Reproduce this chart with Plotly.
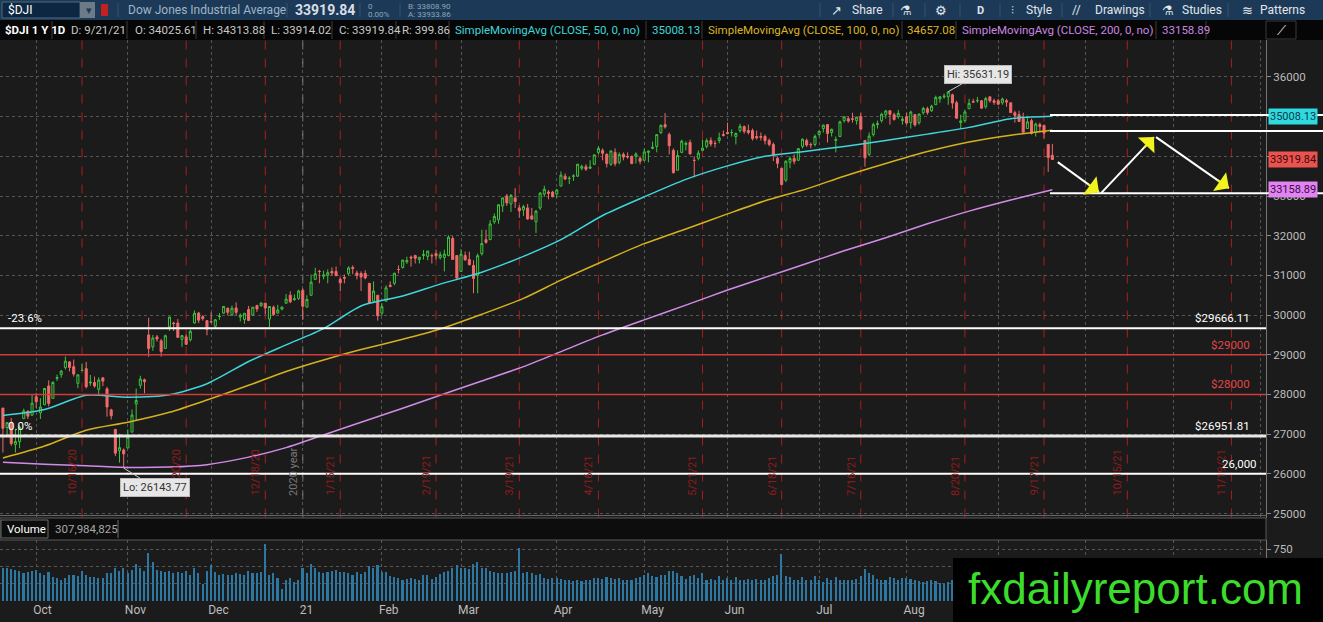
import pandas as pd
import plotly.graph_objects as go

# NYSE sessions, weekends and exchange holidays removed
holidays = ['2020-11-26', '2020-12-25', '2021-01-01', '2021-01-18', '2021-02-15',
            '2021-04-02', '2021-05-31', '2021-07-05', '2021-09-06', '2021-11-25']
sessions = pd.bdate_range('2020-09-21', '2021-12-31', freq='C', holidays=holidays)

# daily $DJI candles, 9/21/20 .. 9/21/21 (one line per month)
opens = [
    27657, 27168, 27298, 26740, 26810, 27390, 27580, 27480,
    27941, 27537, 27740, 28214, 27900, 28404, 28500, 28680, 28820, 28700, 28280, 28600, 28650, 28290, 28300, 28130, 28420, 28140, 27610, 27120, 26580, 26600,
    26650, 27050, 27760, 28230, 28370, 29500, 29200, 29450, 29350, 29160, 29700, 29800, 29800, 29390, 29450, 29380, 29800, 30050, 29960, 29860,
    29830, 29720, 29960, 30050, 30170, 30000, 30180, 29950, 29890, 30140, 30000, 30240, 30230, 30300, 29900, 30200, 30050, 30150, 30300, 30500, 30390, 30420,
    30627, 30200, 30500, 30900, 31100, 30980, 31000, 31100, 31100, 30900, 30950, 31050, 31200, 31060, 31050, 31050, 30800, 30350, 30500,
    30050, 30350, 30750, 30800, 31150, 31200, 31340, 31460, 31500, 31400, 31500, 31480, 31500, 31550, 31450, 31450, 31500, 31930, 31500,
    31100, 31500, 31400, 31250, 31000, 31550, 31900, 31900, 32350, 32400, 32750, 33000, 32800, 32950, 32700, 32650, 32700, 32500, 32350, 32700, 33050, 33100, 33100,
    33050, 33250, 33500, 33440, 33500, 33500, 33700, 33740, 33700, 33800, 34100, 34150, 34050, 33800, 34100, 33850, 34050, 34000, 34000, 34000, 33950,
    33900, 34100, 34200, 34250, 34600, 34800, 34550, 34150, 33650, 34100, 34300, 34350, 33900, 33950, 34150, 34250, 34400, 34330, 34400, 34550,
    34600, 34600, 34500, 34650, 34750, 34650, 34650, 34500, 34500, 34500, 34400, 34300, 33950, 33700, 33400, 33850, 33950, 33900, 34250, 34400, 34300, 34300,
    34550, 34700, 34800, 34600, 34400, 34500, 34900, 34950, 34950, 34900, 35000, 34400, 34050, 34550, 34800, 34900, 35050, 35150, 35050, 35000, 34900,
    35000, 34850, 35050, 34850, 35100, 35200, 35150, 35300, 35450, 35500, 35500, 35550, 35350, 34850, 34900, 35200, 35380, 35400, 35400, 35250, 35500, 35400,
    35400, 35350, 35400, 35350, 35100, 35050, 34950, 34700, 34900, 34600, 34800, 34780, 34300, 34025.61,
]
highs = [
    27657, 27307, 27407, 27110, 27216, 27641, 27596, 27988,
    28040, 27906, 28163, 28354, 28332, 28500, 28620, 28958, 28839, 28880, 28500, 28780, 28820, 28490, 28450, 28430, 28430, 28190, 27640, 27120, 27010, 26640,
    27120, 27620, 28150, 28470, 28400, 29933, 29500, 29500, 29400, 29510, 29960, 29830, 29900, 29500, 29510, 29640, 30116, 30080, 30000, 29860,
    30070, 29900, 30050, 30220, 30190, 30240, 30320, 30040, 30050, 30230, 30200, 30260, 30320, 30300, 30220, 30240, 30260, 30220, 30530, 30600, 30520, 30640,
    30675, 30500, 31022, 31193, 31140, 31120, 31150, 31200, 31223, 30950, 31020, 31230, 31250, 31120, 31100, 31130, 30800, 30850, 30500,
    30300, 30750, 30850, 31060, 31250, 31390, 31470, 31500, 31520, 31460, 31640, 31620, 31550, 31650, 31600, 31650, 32010, 31990, 31500,
    31660, 31600, 31600, 31380, 31550, 32150, 32150, 32390, 32560, 32790, 32960, 33050, 33050, 33200, 32770, 32780, 32800, 32700, 32650, 33100, 33260, 33150, 33130,
    33180, 33620, 33570, 33500, 33550, 33810, 33790, 33800, 33900, 34050, 34260, 34200, 34080, 34140, 34200, 34100, 34100, 34100, 34020, 34100, 34000,
    34200, 34140, 34370, 34550, 34810, 35092, 34600, 34200, 34150, 34420, 34380, 34420, 34000, 34150, 34420, 34450, 34480, 34400, 34600, 34650,
    34850, 34680, 34600, 34820, 34780, 34800, 34700, 34650, 34600, 34550, 34450, 34350, 34000, 33700, 33900, 34000, 34050, 34200, 34450, 34450, 34350, 34550,
    34650, 34800, 34800, 34700, 34500, 34900, 35010, 35000, 35100, 35000, 35100, 34400, 34600, 34850, 34900, 35100, 35170, 35150, 35100, 35170, 35000,
    35100, 35150, 35070, 35080, 35250, 35250, 35300, 35530, 35520, 35580, 35631.19, 35580, 35400, 35050, 35180, 35450, 35450, 35500, 35420, 35500, 35510, 35450,
    35450, 35480, 35450, 35350, 35150, 35150, 35100, 35000, 34950, 34850, 34850, 34800, 34300, 34313.88,
]
lows = [
    26537, 26989, 26705, 26537, 26646, 27387, 27380, 27461,
    27660, 27382, 27740, 27700, 27900, 28340, 28420, 28630, 28580, 28450, 28156, 28590, 28150, 28220, 28170, 28000, 28210, 27440, 27370, 26450, 26280, 26143.77,
    26650, 27050, 27340, 28150, 28030, 28950, 29100, 29330, 28950, 29160, 29600, 29600, 29430, 29200, 29250, 29330, 29790, 29800, 29860, 29490,
    29800, 29650, 29880, 30030, 29990, 29980, 30000, 29840, 29780, 29850, 29980, 30080, 30220, 30020, 29700, 29980, 30040, 30120, 30280, 30300, 30360, 30380,
    29881, 30200, 30490, 30900, 30800, 30900, 30800, 31000, 30990, 30600, 30800, 31000, 31030, 30900, 30610, 30900, 30280, 30350, 29860,
    29980, 30350, 30700, 30750, 31050, 31170, 31290, 31220, 31300, 31300, 31400, 31380, 31300, 31400, 31400, 31100, 31480, 31400, 30880,
    31100, 31370, 31250, 30550, 30550, 31500, 31800, 31900, 32300, 32300, 32600, 32750, 32600, 32700, 32450, 32500, 32400, 32400, 32070, 32650, 32980, 32920, 32970,
    32950, 33250, 33400, 33300, 33380, 33480, 33650, 33630, 33680, 33780, 34050, 33900, 33720, 33760, 33750, 33800, 33900, 33940, 33800, 33820, 33800,
    33900, 33850, 34180, 34100, 34560, 34700, 34050, 33570, 33650, 34080, 34150, 34050, 33470, 33900, 34130, 34200, 34250, 34220, 34330, 34500,
    34550, 34500, 34300, 34600, 34570, 34550, 34400, 34420, 34400, 34300, 34250, 33880, 33700, 33270, 33350, 33700, 33800, 33900, 34200, 34240, 34200, 34250,
    34500, 34600, 34350, 34500, 34100, 34500, 34850, 34850, 34850, 34800, 34650, 33740, 34000, 34500, 34700, 34850, 34950, 34800, 34900, 34950, 34800,
    34800, 34700, 34750, 34800, 35050, 35050, 35120, 35300, 35350, 35450, 35300, 35200, 34950, 34690, 34850, 35200, 35350, 35350, 35200, 35200, 35350, 35300,
    35300, 35300, 35250, 35100, 34850, 34870, 34600, 34700, 34550, 34500, 34600, 34450, 33610, 33914.02,
]
closes = [
    27147, 27288, 26763, 26815, 27174, 27584, 27452, 27782,
    27817, 27683, 28149, 27773, 28303, 28426, 28587, 28838, 28680, 28514, 28495, 28606, 28196, 28309, 28211, 28364, 28336, 27685, 27463, 26520, 26659, 26502,
    26925, 27481, 27848, 28390, 28323, 29158, 29421, 29398, 29080, 29480, 29950, 29784, 29438, 29483, 29263, 29591, 30046, 29872, 29910, 29639,
    29824, 29883, 29969, 30218, 30070, 30174, 30068, 29999, 30046, 29861, 30199, 30155, 30304, 30179, 30216, 30015, 30129, 30200, 30404, 30335, 30409, 30606,
    30223, 30392, 30829, 31041, 31098, 31009, 31068, 31060, 30991, 30814, 30930, 31188, 31176, 30997, 30960, 30937, 30303, 30603, 29983,
    30212, 30688, 30724, 31056, 31148, 31386, 31375, 31438, 31431, 31458, 31523, 31613, 31494, 31494, 31522, 31537, 31962, 31402, 30932,
    31535, 31391, 31270, 30924, 31496, 31802, 31832, 32297, 32485, 32779, 32953, 32826, 33015, 32862, 32628, 32732, 32423, 32420, 32619, 33072, 33171, 33067, 32982,
    33153, 33527, 33430, 33446, 33504, 33801, 33746, 33677, 33730, 34036, 34200, 34078, 33821, 34138, 33816, 34044, 33982, 33985, 33820, 34060, 33875,
    34113, 34133, 34230, 34548, 34778, 34743, 34270, 33587, 34022, 34382, 34327, 34061, 33896, 34084, 34208, 34394, 34313, 34323, 34465, 34529,
    34575, 34600, 34577, 34756, 34630, 34600, 34447, 34466, 34480, 34394, 34299, 34033, 33823, 33290, 33877, 33945, 33874, 34196, 34433, 34283, 34292, 34503,
    34633, 34786, 34577, 34681, 34422, 34870, 34996, 34889, 34933, 34987, 34688, 33962, 34512, 34798, 34823, 35062, 35144, 35058, 34931, 35085, 34935,
    34838, 35117, 34793, 35065, 35209, 35102, 35265, 35485, 35500, 35516, 35626, 35343, 34961, 34894, 35120, 35336, 35367, 35406, 35214, 35456, 35400, 35361,
    35313, 35444, 35369, 35101, 35032, 34879, 34608, 34870, 34578, 34814, 34751, 34584, 33970, 33919.84,
]
# volume, millions of shares
volumes = [
    470, 470, 460, 450, 430, 400, 420, 440,
    450, 400, 380, 420, 350, 330, 300, 330, 370, 380, 360, 430, 380, 350, 340, 330, 330, 400, 400, 470, 430, 480,
    410, 450, 530, 470, 430, 690, 560, 450, 430, 420, 440, 400, 420, 400, 430, 380, 470, 400, 250, 440,
    520, 420, 380, 390, 380, 370, 400, 390, 370, 440, 400, 400, 420, 820, 370, 400, 330, 180, 300, 330, 280, 300,
    480, 400, 530, 470, 420, 400, 420, 440, 450, 420, 420, 400, 380, 420, 390, 420, 500, 470, 520,
    420, 420, 360, 350, 330, 310, 320, 330, 320, 310, 380, 370, 320, 350, 390, 420, 440, 480, 520,
    480, 470, 460, 540, 560, 480, 470, 430, 420, 400, 410, 400, 420, 440, 760, 410, 420, 400, 380, 390, 330, 320, 330,
    330, 320, 300, 310, 290, 300, 290, 300, 310, 330, 330, 320, 340, 330, 320, 330, 300, 310, 300, 330, 340,
    380, 400, 360, 340, 380, 370, 430, 440, 400, 360, 320, 360, 370, 330, 400, 300, 320, 310, 360, 300,
    330, 300, 340, 310, 300, 320, 300, 320, 300, 310, 330, 360, 380, 680, 360, 340, 300, 310, 340, 300, 310, 360,
    310, 280, 330, 300, 340, 300, 300, 310, 300, 320, 360, 460, 400, 370, 320, 300, 310, 340, 330, 300, 330,
    330, 320, 300, 290, 280, 290, 300, 290, 260, 250, 270, 300, 330, 320, 290, 260, 250, 240, 250, 250, 290, 310,
    310, 290, 260, 300, 300, 290, 320, 300, 330, 310, 320, 620, 420, 307.984825,
]

# simple moving averages
sma_dates = ['2020-09-21', '2020-10-05', '2020-10-19', '2020-11-02', '2020-11-16', '2020-11-30',
             '2020-12-14', '2020-12-28', '2021-01-11', '2021-01-25', '2021-02-08', '2021-02-22',
             '2021-03-08', '2021-03-22', '2021-04-05', '2021-04-19', '2021-05-03', '2021-05-17',
             '2021-06-01', '2021-06-14', '2021-06-28', '2021-07-12', '2021-07-26', '2021-08-09',
             '2021-08-23', '2021-09-07', '2021-09-21']
sma50 = [27470, 27620, 27980, 27930, 27990, 28270, 28830, 29250, 29660, 30230, 30480, 30780, 31080, 31480,
         31900, 32510, 32980, 33420, 33760, 34000, 34130, 34250, 34400, 34560, 34730, 34950, 35008.13]
sma100 = [26400, 26700, 27100, 27300, 27550, 27860, 28230, 28580, 28870, 29130, 29390, 29650, 30020, 30420,
          30880, 31350, 31800, 32170, 32550, 32880, 33180, 33500, 33820, 34120, 34360, 34530, 34657.08]
sma200 = [26290, 26240, 26200, 26160, 26170, 26230, 26420, 26660, 26980, 27300, 27650, 27980, 28340, 28700,
          29080, 29500, 29880, 30250, 30630, 30950, 31300, 31620, 31950, 32300, 32620, 32900, 33158.89]

# month labels that are not hidden under the watermark
month_labels = ['Oct', 'Nov', 'Dec', '21', 'Feb', 'Mar', 'Apr', 'May', 'Jun', 'Jul', 'Aug']
price_ticks = list(range(25000, 37000, 1000))
hidden_ticks = [34000, 35000]   # sit under the price badges
expiries = ['2020-10-16', '2020-11-20', '2020-12-18', '2021-01-15', '2021-02-19', '2021-03-19', '2021-04-16',
            '2021-05-21', '2021-06-18', '2021-07-16', '2021-08-20', '2021-09-17', '2021-10-15', '2021-11-19']

# drawn levels: (price, colour, width, left text, right text, right text colour)
levels = [
    (29666.11, '#ffffff', 2, '-23.6%', '$29666.11', '#ffffff'),
    (29000, '#d23a3a', 1.5, '', '$29000', '#e04848'),
    (28000, '#d23a3a', 1.5, '', '$28000', '#e04848'),
    (26951.81, '#e8e8e8', 3, '0.0%', '$26951.81', '#ffffff'),
    (26000, '#ffffff', 2, '', '26,000', '#ffffff'),
]
short_levels = [35040, 34640, 33070]
# hand drawn arrows after the last bar: (bar index, price) start -> tip
arrows = [((253.3, 33855), (263.2, 33098)),
          ((263.7, 33073), (276.4, 34485)),
          ((276.9, 34485), (294.4, 33199))]

n = len(closes)
dates = sessions[:n]
xs = list(range(n))


def pos(d):
    return sessions.get_loc(pd.Timestamp(d))


sma_x = [pos(d) for d in sma_dates]
firsts = pd.Series(range(len(sessions)), index=sessions).groupby([sessions.year, sessions.month]).first()
month_all = [int(v) for v in firsts.values if v >= pos('2020-10-01')]
month_text = month_labels + [''] * (len(month_all) - len(month_labels))

# pixel helpers for the decorations around the plot (plot area 1266 x 561, top at 40)
PW, TOP, BOT = 1266, 40, 601


def px(x):
    return x / PW


def py(y):
    return (BOT - y) / (BOT - TOP)


FONT = 'Roboto'
BG = '#1b1b1b'

fig = go.Figure()
fig.add_trace(go.Candlestick(
    x=xs, open=opens, high=highs, low=lows, close=closes,
    increasing=dict(line=dict(color='#3ec43e', width=1), fillcolor=BG),
    decreasing=dict(line=dict(color='#f26a6a', width=1), fillcolor='#f26a6a'),
    whiskerwidth=0, hovertext=[d.strftime('%m/%d/%y') for d in dates], name='$DJI'))
for vals, col in [(sma200, '#d28ce8'), (sma100, '#d6b11e'), (sma50, '#3fd6dc')]:
    fig.add_trace(go.Scatter(x=sma_x, y=vals, mode='lines', hoverinfo='skip',
                             line=dict(color=col, width=1.5, shape='spline', smoothing=0.7)))
fig.add_trace(go.Bar(x=xs, y=volumes, marker_color='#2c78a3', marker_line_width=0, width=0.38,
                     xaxis='x2', yaxis='y2', name='Volume'))

grid = dict(showgrid=True, gridcolor='#555555', griddash='dot', gridwidth=1, zeroline=False)
fig.update_layout(
    width=1323, height=622, showlegend=False,
    margin=dict(l=0, r=1323 - PW, t=TOP, b=622 - BOT),
    paper_bgcolor=BG, plot_bgcolor=BG,
    font=dict(family=FONT, color='#bdbdbd', size=11),
    xaxis=dict(domain=[0, 1], range=[-0.7, 303.3], anchor='y', tickvals=month_all, showticklabels=False,
               ticks='', showline=False, rangeslider=dict(visible=False), **grid),
    xaxis2=dict(domain=[0, 1], matches='x', anchor='y2', tickvals=month_all, ticktext=month_text,
                ticklabelposition='outside right', ticklabelshift=-3, ticks='', showline=False,
                tickfont=dict(size=12, color='#bdbdbd'), **grid),
    yaxis=dict(domain=[py(517.5), 1], range=[24899, 36932], side='right', anchor='x',
               tickvals=price_ticks, ticktext=['' if t in hidden_ticks else str(t) for t in price_ticks],
               ticks='outside', ticklen=4, tickcolor='#888888',
               showline=True, linecolor='#777777', tickfont=dict(size=11.5, color='#bdbdbd'), **grid),
    yaxis2=dict(domain=[0, py(540)], range=[0, 880], side='right', anchor='x2',
                tickvals=[250, 500, 750], ticktext=['', '', '750'], ticks='outside', ticklen=4,
                tickcolor='#888888', showline=True, linecolor='#777777',
                tickfont=dict(size=11.5, color='#bdbdbd'), **grid),
    bargap=0,
)

shapes = []
ann = []

# option expiry lines and the year separator
for d in expiries:
    t = pd.Timestamp(d)
    shapes.append(dict(type='line', xref='x', yref='y domain', x0=pos(d), x1=pos(d), y0=0, y1=1,
                       line=dict(color='#a81e1e', width=1, dash='dash'), layer='below'))
    ann.append(dict(x=pos(d), y=25400, xref='x', yref='y', xanchor='right', yanchor='bottom', xshift=-1,
                    text=f'{t.month}/{t.day}/{t.year % 100}', textangle=-90, showarrow=False,
                    font=dict(color='#8e1c1c', size=11)))
yr = pos('2021-01-04')
shapes.append(dict(type='line', xref='x', yref='y domain', x0=yr, x1=yr, y0=0, y1=1,
                   line=dict(color='#8a8a8a', width=1, dash='dash'), layer='below'))
ann.append(dict(x=yr, y=25400, xref='x', yref='y', xanchor='right', yanchor='bottom', xshift=-1,
                text='2020 year', textangle=-90, showarrow=False, font=dict(color='#7a7a7a', size=11)))

# horizontal levels
for price, col, w, ltxt, rtxt, rcol in levels:
    shapes.append(dict(type='line', xref='paper', yref='y', x0=0, x1=1, y0=price, y1=price,
                       line=dict(color=col, width=w)))
    if ltxt:
        ann.append(dict(x=px(6), y=price, xref='paper', yref='y', xanchor='left', yanchor='middle', yshift=10,
                        text=ltxt, showarrow=False, font=dict(color='#ffffff', size=11.5)))
    ann.append(dict(x=px(1252 if rtxt != '26,000' else 1259), y=price, xref='paper', yref='y',
                    xanchor='right', yanchor='middle', yshift=10, text=rtxt, showarrow=False,
                    font=dict(color=rcol, size=11.5)))
for price in short_levels:
    shapes.append(dict(type='line', xref='paper', yref='y', x0=px(1050), x1=px(1323), y0=price, y1=price,
                       line=dict(color='#ffffff', width=2)))

# arrows: white shaft, yellow head
for (x0, y0), (x1, y1) in arrows:
    shapes.append(dict(type='line', xref='x', yref='y', x0=x0, y0=y0, x1=x1, y1=y1,
                       line=dict(color='#ffffff', width=2)))
    dxp, dyp = (x1 - x0) * 4.164, (y1 - y0) * 0.03968
    k = 16 / (dxp ** 2 + dyp ** 2) ** 0.5
    ann.append(dict(x=x1, y=y1, ax=x1 - (x1 - x0) * k, ay=y1 - (y1 - y0) * k, xref='x', yref='y',
                    axref='x', ayref='y', text='', showarrow=True, arrowhead=1, arrowsize=1.9,
                    arrowwidth=2, arrowcolor='#f2f21e', standoff=0))

# hi / lo bubbles
hi_i = highs.index(max(highs))
lo_i = lows.index(min(lows))
ann.append(dict(x=hi_i, y=highs[hi_i], xref='x', yref='y', ax=30, ay=-17, text=f'Hi: {highs[hi_i]:.2f}',
                showarrow=True, arrowhead=0, arrowcolor='#cccccc', arrowwidth=1, bgcolor='#e6e6e6',
                bordercolor='#bbbbbb', borderpad=2, font=dict(color='#333333', size=11)))
ann.append(dict(x=lo_i, y=lows[lo_i], xref='x', yref='y', ax=31, ay=19, text=f'Lo: {lows[lo_i]:.2f}',
                showarrow=True, arrowhead=0, arrowcolor='#cccccc', arrowwidth=1, bgcolor='#e6e6e6',
                bordercolor='#bbbbbb', borderpad=2, font=dict(color='#333333', size=11)))

# price badges on the right axis
for val, bg, fg in [(sma50[-1], '#2fdadf', '#0b3b4a'), (closes[-1], '#ea5450', '#3d0606'),
                    (sma200[-1], '#e283f2', '#3c0848')]:
    ann.append(dict(x=1 + px(2), y=val, xref='paper', yref='y', xanchor='left', yanchor='middle',
                    text=f'{val:.2f}', showarrow=False, bgcolor=bg, borderpad=1,
                    font=dict(color=fg, size=11)))

# main pane bottom border and volume header
shapes.append(dict(type='line', xref='paper', yref='paper', x0=0, x1=1, y0=py(515.5), y1=py(515.5),
                   line=dict(color='#666666', width=1)))
shapes.append(dict(type='rect', xref='paper', yref='paper', x0=0, x1=1, y0=py(540), y1=py(518),
                   fillcolor='#0d0d0d', line=dict(color='#5a5a5a', width=1)))
shapes.append(dict(type='rect', xref='paper', yref='paper', x0=px(1), x1=px(48), y0=py(538), y1=py(520),
                   line=dict(color='#6a6a6a', width=1)))
shapes.append(dict(type='line', xref='paper', yref='paper', x0=px(118), x1=px(118), y0=py(538), y1=py(520),
                   line=dict(color='#6a6a6a', width=1)))
ann.append(dict(x=px(5), y=py(529), xref='paper', yref='paper', xanchor='left', yanchor='middle',
                text='Volume', showarrow=False, font=dict(color='#ffffff', size=11.5)))
ann.append(dict(x=px(53), y=py(529), xref='paper', yref='paper', xanchor='left', yanchor='middle',
                text=f'{round(volumes[-1] * 1e6):,}', showarrow=False,
                font=dict(color='#a8a8a8', size=11.5)))

# top toolbar and study bar
shapes.append(dict(type='rect', xref='paper', yref='paper', x0=0, x1=px(1323), y0=py(20), y1=py(0),
                   fillcolor='#1c3a57', line=dict(width=0)))
shapes.append(dict(type='rect', xref='paper', yref='paper', x0=0, x1=px(1323), y0=py(40), y1=py(20),
                   fillcolor='#060606', line=dict(width=0)))
shapes.append(dict(type='rect', xref='paper', yref='paper', x0=px(2), x1=px(80), y0=py(18), y1=py(2),
                   fillcolor='#0e2740', line=dict(color='#4f6a84', width=1)))
shapes.append(dict(type='rect', xref='paper', yref='paper', x0=px(80), x1=px(95), y0=py(18), y1=py(2),
                   fillcolor='#6d7b89', line=dict(width=0)))
shapes.append(dict(type='rect', xref='paper', yref='paper', x0=px(101), x1=px(108), y0=py(16), y1=py(4),
                   fillcolor='#c42020', line=dict(width=0)))
shapes.append(dict(type='rect', xref='paper', yref='paper', x0=px(1266), x1=px(1296), y0=py(39), y1=py(21),
                   line=dict(color='#3a3a3a', width=1)))
for sx in [118, 287, 360, 400, 820, 893, 925, 960, 1000, 1062, 1150, 1228]:
    shapes.append(dict(type='line', xref='paper', yref='paper', x0=px(sx), x1=px(sx), y0=py(17), y1=py(3),
                       line=dict(color='#35526e', width=1)))
for sx in [52, 127, 196, 264, 332, 396, 449, 646, 702, 902, 956, 1156, 1206]:
    shapes.append(dict(type='line', xref='paper', yref='paper', x0=px(sx), x1=px(sx), y0=py(39), y1=py(21),
                       line=dict(color='#3a3a3a', width=1)))

top_items = [
    ('$DJI', 6, 10, '#ffffff', 12), ('▾', 84, 10, '#1c3a57', 11),
    ('Dow Jones Industrial Average', 126, 10, '#9fb4c8', 12),
    ('<b>33919.84</b>', 293, 10, '#d8dee6', 14),
    ('0', 366, 6, '#8fa4b8', 8), ('0.00%', 366, 15, '#8fa4b8', 8),
    ('B: 33808.90', 406, 6, '#8fa4b8', 8), ('A: 33933.86', 406, 15, '#8fa4b8', 8),
    ('↗', 829, 10, '#e0e6ec', 13), ('Share', 850, 10, '#e0e6ec', 12),
    ('⚗', 898, 10, '#e0e6ec', 13), ('⚙', 933, 10, '#e0e6ec', 13), ('<b>D</b>', 975, 10, '#e0e6ec', 11),
    ('⫶', 1009, 10, '#e0e6ec', 12), ('Style', 1024, 10, '#e0e6ec', 12),
    ('//', 1070, 10, '#e0e6ec', 12), ('Drawings', 1093, 10, '#e0e6ec', 12),
    ('⚗', 1160, 10, '#e0e6ec', 13), ('Studies', 1180, 10, '#e0e6ec', 12),
    ('≋', 1240, 10, '#e0e6ec', 13), ('Patterns', 1258, 10, '#e0e6ec', 12),
    ('<b>$DJI 1 Y 1D</b>', 3, 30, '#ffffff', 11.5),
    ('D: 9/21/21', 69, 30, '#c8c8c8', 11.5), ('O: 34025.61', 133, 30, '#c8c8c8', 11.5),
    ('H: 34313.88', 201, 30, '#c8c8c8', 11.5), ('L: 33914.02', 269, 30, '#c8c8c8', 11.5),
    ('C: 33919.84', 337, 30, '#c8c8c8', 11.5), ('R: 399.86', 400, 30, '#c8c8c8', 11.5),
    ('SimpleMovingAvg (CLOSE, 50, 0, no)', 453, 30, '#3fd6dc', 11.5), (f'{sma50[-1]:.2f}', 650, 30, '#3fd6dc', 11.5),
    ('SimpleMovingAvg (CLOSE, 100, 0, no)', 706, 30, '#d9b526', 11.5), (f'{sma100[-1]:.2f}', 905, 30, '#d9b526', 11.5),
    ('SimpleMovingAvg (CLOSE, 200, 0, no)', 960, 30, '#c986e0', 11.5), (f'{sma200[-1]:.2f}', 1160, 30, '#c986e0', 11.5),
    ('⟋', 1275, 30, '#e0e0e0', 13),
]
for txt, tx, ty, col, size in top_items:
    ann.append(dict(x=px(tx), y=py(ty), xref='paper', yref='paper', xanchor='left', yanchor='middle',
                    text=txt, showarrow=False, font=dict(color=col, size=size)))

# watermark
shapes.append(dict(type='rect', xref='paper', yref='paper', x0=px(953), x1=px(1323), y0=py(622), y1=py(558),
                   fillcolor='#000000', line=dict(width=0), layer='above'))
ann.append(dict(x=px(1135), y=py(588), xref='paper', yref='paper', xanchor='center', yanchor='middle',
                text='fxdailyreport.com', showarrow=False,
                font=dict(family='Liberation Sans, Arial', color='#3cdc2c', size=44)))

fig.update_layout(shapes=shapes, annotations=ann)

fig.write_html("out.html", config={'displayModeBar': False},
               post_script="document.body.style.margin='0';document.body.style.overflow='hidden';")
